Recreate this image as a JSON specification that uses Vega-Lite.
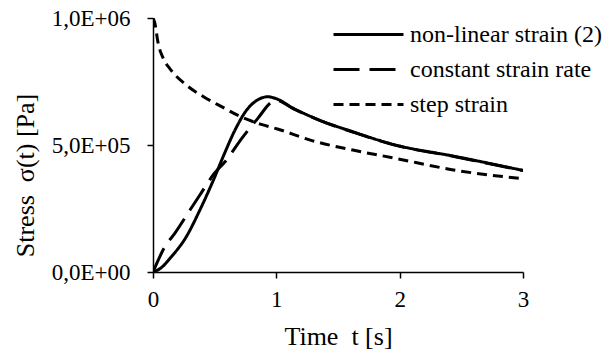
{
  "$schema": "https://vega.github.io/schema/vega-lite/v6.json",
  "width": 370,
  "height": 254,
  "autosize": {"type": "none"},
  "padding": {"left": 153, "top": 18, "right": 86, "bottom": 77},
  "background": "white",
  "config": {
    "view": {"stroke": null},
    "font": "Liberation Serif",
    "axis": {
      "grid": false,
      "labelFlush": false,
      "labelOverlap": false,
      "domainColor": "black",
      "domainWidth": 1.5,
      "tickColor": "black",
      "tickWidth": 1.5,
      "tickSize": 6,
      "labelColor": "black",
      "labelFont": "Liberation Serif",
      "labelFontSize": 23,
      "titleFont": "Liberation Serif",
      "titleFontSize": 26,
      "titleFontWeight": "normal",
      "titleColor": "black"
    },
    "legend": {
      "labelFont": "Liberation Serif",
      "labelFontSize": 24,
      "labelColor": "black",
      "labelLimit": 0,
      "padding": 0
    }
  },
  "data": {
    "values": [
      {"t": 0, "s": 0, "series": "non-linear strain (2)"},
      {"t": 0.07, "s": 18000, "series": "non-linear strain (2)"},
      {"t": 0.138, "s": 54000, "series": "non-linear strain (2)"},
      {"t": 0.27, "s": 139000, "series": "non-linear strain (2)"},
      {"t": 0.38, "s": 244000, "series": "non-linear strain (2)"},
      {"t": 0.49, "s": 362000, "series": "non-linear strain (2)"},
      {"t": 0.58, "s": 467000, "series": "non-linear strain (2)"},
      {"t": 0.665, "s": 559000, "series": "non-linear strain (2)"},
      {"t": 0.76, "s": 638000, "series": "non-linear strain (2)"},
      {"t": 0.85, "s": 678000, "series": "non-linear strain (2)"},
      {"t": 0.93, "s": 690000, "series": "non-linear strain (2)"},
      {"t": 0.99, "s": 684000, "series": "non-linear strain (2)"},
      {"t": 1.14, "s": 644000, "series": "non-linear strain (2)"},
      {"t": 1.35, "s": 598000, "series": "non-linear strain (2)"},
      {"t": 1.62, "s": 552000, "series": "non-linear strain (2)"},
      {"t": 1.95, "s": 502000, "series": "non-linear strain (2)"},
      {"t": 2.46, "s": 454000, "series": "non-linear strain (2)"},
      {"t": 3.0, "s": 400000, "series": "non-linear strain (2)"},

      {"t": 0, "s": 0, "series": "constant strain rate"},
      {"t": 0.097, "s": 100000, "series": "constant strain rate"},
      {"t": 0.178, "s": 153000, "series": "constant strain rate"},
      {"t": 0.30, "s": 244000, "series": "constant strain rate"},
      {"t": 0.38, "s": 303000, "series": "constant strain rate"},
      {"t": 0.50, "s": 390000, "series": "constant strain rate"},
      {"t": 0.584, "s": 434000, "series": "constant strain rate"},
      {"t": 0.72, "s": 526000, "series": "constant strain rate"},
      {"t": 0.85, "s": 605000, "series": "constant strain rate"},
      {"t": 0.96, "s": 668000, "series": "constant strain rate"},
      {"t": 1.0, "s": 676000, "series": "constant strain rate"},
      {"t": 1.14, "s": 642000, "series": "constant strain rate"},
      {"t": 1.35, "s": 597000, "series": "constant strain rate"},
      {"t": 1.62, "s": 551000, "series": "constant strain rate"},
      {"t": 1.95, "s": 501000, "series": "constant strain rate"},
      {"t": 2.46, "s": 453000, "series": "constant strain rate"},
      {"t": 3.0, "s": 399000, "series": "constant strain rate"},

      {"t": 0, "s": 1000000, "series": "step strain"},
      {"t": 0.015, "s": 980000, "series": "step strain"},
      {"t": 0.04, "s": 905000, "series": "step strain"},
      {"t": 0.084, "s": 840000, "series": "step strain"},
      {"t": 0.138, "s": 800000, "series": "step strain"},
      {"t": 0.27, "s": 736000, "series": "step strain"},
      {"t": 0.41, "s": 690000, "series": "step strain"},
      {"t": 0.56, "s": 650000, "series": "step strain"},
      {"t": 0.705, "s": 613000, "series": "step strain"},
      {"t": 0.87, "s": 582000, "series": "step strain"},
      {"t": 1.01, "s": 563000, "series": "step strain"},
      {"t": 1.27, "s": 520000, "series": "step strain"},
      {"t": 1.62, "s": 480000, "series": "step strain"},
      {"t": 1.95, "s": 449000, "series": "step strain"},
      {"t": 2.46, "s": 400000, "series": "step strain"},
      {"t": 3.0, "s": 367000, "series": "step strain"}
    ]
  },
  "mark": {"type": "line", "color": "black", "interpolate": "monotone", "clip": true},
  "encoding": {
    "x": {
      "field": "t",
      "type": "quantitative",
      "scale": {"domain": [0, 3], "nice": false},
      "axis": {"values": [0, 1, 2, 3], "title": "Time\u00a0\u00a0t [s]", "labelPadding": 10, "titlePadding": 12}
    },
    "y": {
      "field": "s",
      "type": "quantitative",
      "scale": {"domain": [0, 1000000], "nice": false},
      "axis": {
        "values": [0, 500000, 1000000],
        "labelExpr": "datum.value == 0 ? '0,0E+00' : (datum.value == 500000 ? '5,0E+05' : '1,0E+06')",
        "labelPadding": 17,
        "title": "Stress\u00a0\u00a0σ(t) [Pa]",
        "titleY": 157,
        "titleX": -128,
        "titleBaseline": "middle"
      }
    },
    "strokeDash": {
      "field": "series",
      "type": "nominal",
      "scale": {
        "domain": ["non-linear strain (2)", "constant strain rate", "step strain"],
        "range": [[1, 0], [26, 10], [10, 6]]
      },
      "legend": {
        "title": null,
        "orient": "none",
        "legendX": 200,
        "legendY": 1,
        "symbolType": "M-2.5,0H2.5",
        "symbolSize": 784,
        "symbolStrokeWidth": 3,
        "symbolStrokeColor": "black",
        "symbolFillColor": "transparent",
        "labelOffset": 26,
        "rowPadding": 7
      }
    },
    "strokeWidth": {
      "field": "series",
      "type": "nominal",
      "scale": {
        "domain": ["non-linear strain (2)", "constant strain rate", "step strain"],
        "range": [3, 3, 2.5]
      },
      "legend": null
    }
  }
}
